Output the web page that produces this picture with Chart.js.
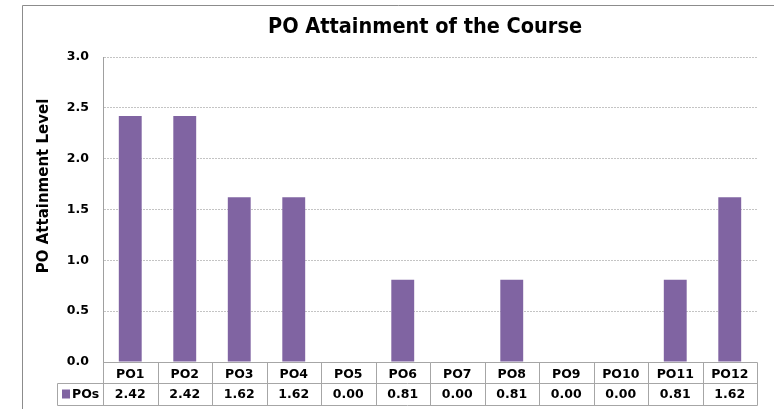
<!DOCTYPE html>
<html>
<head>
<meta charset="utf-8">
<script src="https://cdn.jsdelivr.net/npm/chart.js@4"></script>
<style>body{margin:0;background:#fff}</style>
</head>
<body>
<canvas id="myChart" width="774" height="409"></canvas>
<script>
/*---------------------------- data ------------------------------------*/
var xValues = ['PO1','PO2','PO3','PO4','PO5','PO6','PO7','PO8','PO9','PO10','PO11','PO12'];
var yValues = [2.42, 2.42, 1.62, 1.62, 0.00, 0.81, 0.00, 0.81, 0.00, 0.00, 0.81, 1.62];
var seriesName = 'POs';
var chartTitle = 'PO Attainment of the Course';
var yTitle = 'PO Attainment Level';
var barColor = '#8064a2';
var fontName = '"DejaVu Sans", sans-serif';
var titleFont = '"DejaVu Sans Condensed", "DejaVu Sans", sans-serif';

/*---------------------------- frame, titles, data table ------------------------------------*/
var chartFrame = {
  id: 'chartFrame',
  beforeDraw: function(chart) {
    var ctx = chart.ctx;
    ctx.save();
    ctx.strokeStyle = '#8c8c8c';
    ctx.lineWidth = 1;
    ctx.beginPath();
    ctx.moveTo(22.5, chart.height);
    ctx.lineTo(22.5, 5.5);
    ctx.lineTo(chart.width, 5.5);
    ctx.stroke();

    // chart title (Excel puts it off the plot centre)
    ctx.fillStyle = '#000';
    ctx.font = 'bold 21.5px ' + titleFont;
    ctx.textAlign = 'center';
    ctx.textBaseline = 'alphabetic';
    ctx.fillText(chartTitle, 425, 33);

    // y axis title
    ctx.translate(43, 186);
    ctx.rotate(-Math.PI / 2);
    ctx.font = 'bold 15px ' + fontName;
    ctx.textBaseline = 'middle';
    ctx.fillText(yTitle, 0, 1);
    ctx.restore();
  }
};

var dataTable = {
  id: 'dataTable',
  afterDraw: function(chart) {
    var ctx = chart.ctx;
    var xs = chart.scales.x;
    var area = chart.chartArea;
    var top = Math.round(area.bottom) + 0.5;
    var mid = top + 21;
    var bot = mid + 22;
    var legLeft = 57.5;
    var half = (xs.getPixelForValue(1) - xs.getPixelForValue(0)) / 2;
    var right = Math.round(area.right) + 0.5;

    function line(x1, y1, x2, y2) {
      ctx.beginPath();
      ctx.moveTo(x1, y1);
      ctx.lineTo(x2, y2);
      ctx.stroke();
    }

    ctx.save();
    ctx.strokeStyle = '#a6a6a6';
    ctx.lineWidth = 1;
    line(Math.round(area.left) + 0.5, top, right, top);
    line(legLeft, mid, right, mid);
    line(legLeft, bot, right, bot);
    line(legLeft, mid, legLeft, bot);
    for (var i = 0; i < xValues.length; i++) {
      var xb = Math.round(xs.getPixelForValue(i) - half) + 0.5;
      line(xb, top, xb, bot);
    }
    line(right, top, right, bot);

    ctx.fillStyle = '#000';
    ctx.font = 'bold 12.5px ' + fontName;
    ctx.textAlign = 'center';
    ctx.textBaseline = 'middle';
    for (var j = 0; j < xValues.length; j++) {
      var cx = xs.getPixelForValue(j);
      ctx.fillText(xValues[j], cx, (top + mid) / 2 + 1.5);
      ctx.fillText(yValues[j].toFixed(2), cx, (mid + bot) / 2 + 0.5);
    }

    // legend key cell
    ctx.fillStyle = barColor;
    ctx.fillRect(62, mid + 6, 8, 9);
    ctx.fillStyle = '#000';
    ctx.textAlign = 'left';
    ctx.fillText(seriesName, 72, (mid + bot) / 2 + 0.5);
    ctx.restore();
  }
};

/*---------------------------- bar chart ------------------------------------*/
new Chart('myChart', {
  type: 'bar',
  data: {
    labels: xValues,
    datasets: [{
      label: seriesName,
      data: yValues,
      backgroundColor: barColor,
      borderWidth: 0,
      categoryPercentage: 1,
      barPercentage: 0.42
    }]
  },
  options: {
    responsive: false,
    animation: false,
    devicePixelRatio: 1,
    layout: {padding: {left: 22, right: 17, top: 57, bottom: 47}},
    plugins: {
      legend: {display: false},
      tooltip: {enabled: false},
      title: {display: false}
    },
    scales: {
      x: {display: false},
      y: {
        min: 0,
        max: 3,
        afterFit: function(scale) { scale.width = 81; },
        ticks: {
          stepSize: 0.5,
          padding: 14,
          color: '#000',
          font: {family: fontName, size: 12.5, weight: 'bold'},
          callback: function(v) { return v.toFixed(1); }
        },
        grid: {color: '#c4c4c4', drawTicks: false},
        border: {display: true, color: '#a0a0a0', dash: [2, 1]}
      }
    }
  },
  plugins: [chartFrame, dataTable]
});
</script>
</body>
</html>
